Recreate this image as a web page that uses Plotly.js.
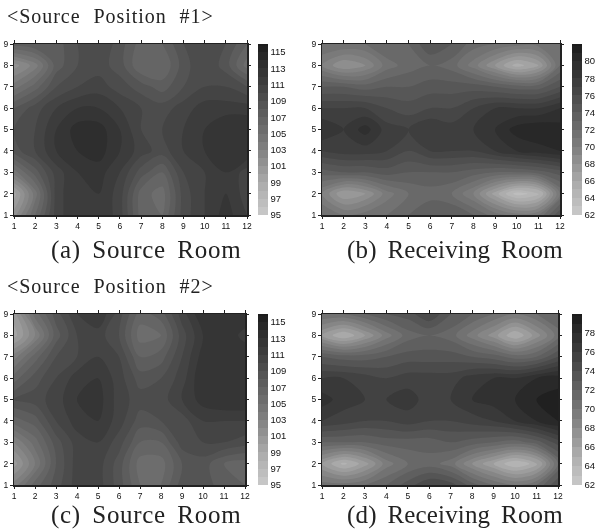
<!DOCTYPE html>
<html><head><meta charset="utf-8">
<script src="https://cdn.plot.ly/plotly-3.0.1.min.js"></script>
<style>html,body{margin:0;padding:0;background:#fff}#c{width:595px;height:531px;filter:blur(0.3px)}</style></head>
<body><div id="c"></div>
<script>
const xs=[1,2,3,4,5,6,7,8,9,10,11,12];
const ys=[1,2,3,4,5,6,7,8,9];
const zA=[
[101.5,106,110.5,112,112,110.5,106.5,106,109.5,111,112.5,111],
[99.5,104.5,110.5,112,112,110.5,106.5,105.5,109.5,111,112,110.5],
[104.5,107.5,110.5,112,112.5,111,108.5,107,110,111,112,110.5],
[108.5,110,112,113,113.5,112,110.5,109.5,111,112,113,113],
[109,110,112,113.5,113.5,112,110,110,111,112,113,113],
[108,109.5,111,112,112,111,110,109.5,110.5,111.5,111.5,111.5],
[104.5,106.5,109,110,110.5,109.5,108.5,107.5,109,110,110,109],
[101.5,103.5,107.5,109,109.5,108.5,106,106,108.5,110,108.5,105.5],
[107.5,108,107.5,109,110,108.5,106.5,107,109,110,109,107]];
const zB=[
[72,71,71.5,72,73,74,74,73,71.5,70.5,71,75],
[70,67,68,70.5,72,72.5,72,70,66.5,63.5,64.5,71],
[73.5,74,74,74.5,74,74,74,73.5,73,73,73.5,74.5],
[77,77.5,77.5,77,76,77,77,77,78,79,79.5,80],
[79,78,79.5,77.5,77,78,77.5,78,79,80.5,81,80.5],
[77,77,77,76,75.5,76,76,77,78,78,78,79],
[74,74,73.5,74,74,74.5,74.5,74.5,74,73.5,73.5,75],
[70,68,69,71.5,72.5,73,72.5,70.5,68,65.5,67,72],
[72,72,72,73,73,75,74,72.5,72,71.5,71.5,72]];
const zC=[
[103.5,106.5,108.5,110.5,110.5,108.5,106,106,108.5,108.5,107.5,107],
[100.5,104,108,110.5,110.5,108.5,105.5,105.5,108,108.5,107,106.5],
[103,105.5,108.5,110.5,111,109.5,107,107,109.5,110,110,109.5],
[106.5,107.5,110,111.5,112,110.5,108.5,109,109.5,111,111,111],
[109,109.5,110.5,112,112.5,110.5,109.5,109.5,111,112.5,113,113],
[106.5,108.5,110,111.5,112,110.5,108.5,109,110.5,113,113,113],
[103.5,106.5,109,110,111,110,107,107.5,110,112.5,113,113],
[99.5,103,107.5,110,110.5,109,105.5,106,109.5,112,113,111.5],
[100.5,105.5,108.5,111,112,109.5,106.5,107.5,110.5,113,113,113]];
const zD=[
[70.5,70.5,71,72,73.5,75,74.5,72.5,71,70,71,74],
[67,64.7,66.5,69.5,71,71.5,70.5,68,66,64,65.5,71],
[72,72,72,72.5,72.5,72.5,73,72.5,72,71.5,72.5,74.5],
[76,75.5,75,75,75.5,75,75,75.5,76,77,78,79],
[77.5,76.5,76,76,76.5,75.5,76,77,77.5,78,79,79.5],
[76,76,75.5,75,75.5,75.5,75.5,76.5,77,77,78,78.5],
[73,72.5,72.5,73,73.5,73.5,73.5,73,72.5,71.5,72,74],
[67,65,67,69.5,71.5,72,71.5,69.5,67.5,65,67.5,70.5],
[71,71,72,73,73.5,75,73,72,71,70,71,72]];
const xTicks=xs, yTicks=ys;
const barTicksSource=[95,97,99,101,103,105,107,109,111,113,115];
const barTicksB=[62,64,66,68,70,72,74,76,78,80];
const barTicksD=[62,64,66,68,70,72,74,76,78];
const captions=["(a) Source Room","(b) Receiving Room","(c) Source Room","(d) Receiving Room"];
const headings=["<Source Position #1>","<Source Position #2>"];
const W=595,H=531;
const gray=[[0,"#cacaca"],[0.19,"#aaaaaa"],[0.38,"#828282"],[0.57,"#616161"],[0.76,"#404040"],[0.95,"#242424"],[1,"#1c1c1c"]];
const panels=[
 {z:zA,box:[14,247,44,215],cb:258,lo:95,hi:116,t:barTicksSource,cap:[51,250]},
 {z:zB,box:[322,560,44,215],cb:572,lo:62,hi:82,t:barTicksB,cap:[347,250]},
 {z:zC,box:[14,245,314,485],cb:258,lo:95,hi:116,t:barTicksSource,cap:[51,515]},
 {z:zD,box:[322,558,314,485],cb:572,lo:62,hi:80,t:barTicksD,cap:[347,515]}];
const traces=[],layout={width:W,height:H,margin:{l:0,r:0,t:0,b:0},paper_bgcolor:"#fff",showlegend:false,
 font:{family:"Liberation Sans, Arial, sans-serif",color:"#222",size:8},annotations:[]};
panels.forEach((p,i)=>{
 const n=i+1,s=i?String(n):"";
 const [x0,x1,y0,y1]=p.box;
 traces.push({type:"contour",x:xs,y:ys,z:p.z,xaxis:"x"+s,yaxis:"y"+s,
  zmin:p.lo,zmax:p.hi,autocontour:false,
  contours:{start:p.lo,end:p.hi,size:1,coloring:"fill",showlines:false},
  line:{width:0},colorscale:gray,
  colorbar:{x:p.cb/W,xanchor:"left",xref:"paper",y:1-y1/H,yanchor:"bottom",yref:"paper",
   lenmode:"pixels",len:y1-y0,thicknessmode:"pixels",thickness:10,outlinewidth:0,borderwidth:0,xpad:0,ypad:0,
   tickmode:"array",tickvals:p.t,ticks:"",tickfont:{size:9.5,color:"#111"}}});
 const ax={showgrid:false,zeroline:false,showline:true,linecolor:"#222",linewidth:1.5,mirror:"ticks",ticks:"outside",ticklen:2.5,tickwidth:1,tickcolor:"#222",
   tickfont:{size:8.5,color:"#111"},tickmode:"array"};
 layout["xaxis"+s]=Object.assign({},ax,{domain:[x0/W,x1/W],range:[1,12],tickvals:xTicks,anchor:"y"+s});
 layout["yaxis"+s]=Object.assign({},ax,{domain:[1-y1/H,1-y0/H],range:[1,9],tickvals:yTicks,anchor:"x"+s});
 layout.annotations.push({text:captions[i],xref:"paper",yref:"paper",x:p.cap[0]/W,y:1-p.cap[1]/H,xanchor:"left",yanchor:"middle",showarrow:false,
   font:{family:"Liberation Serif, serif",size:25,color:"#222"}});
});
headings.forEach((t,i)=>layout.annotations.push({text:t.replace("<","&lt;").replace(">","&gt;"),xref:"paper",yref:"paper",x:7/W,y:1-(i?286:16)/H,xanchor:"left",yanchor:"middle",showarrow:false,
   font:{family:"Liberation Serif, serif",size:20,color:"#222"}}));
Plotly.newPlot("c",traces,layout,{displayModeBar:false,staticPlot:true}).then(()=>{
 const starts=[51,347,51,347,7,7];
 const letter=[0.7,0.15,0.7,0.15,0.95,0.95];
 const word=[4.5,4.5,4.5,4.5,7,7];
 document.querySelectorAll(".annotation-text").forEach((el,i)=>{
  el.style.letterSpacing=letter[i]+"px";
  el.style.wordSpacing=word[i]+"px";
  const left=el.getBoundingClientRect().left;
  el.setAttribute("x",parseFloat(el.getAttribute("x"))+starts[i]-left);
 });
});
</script></body></html>
